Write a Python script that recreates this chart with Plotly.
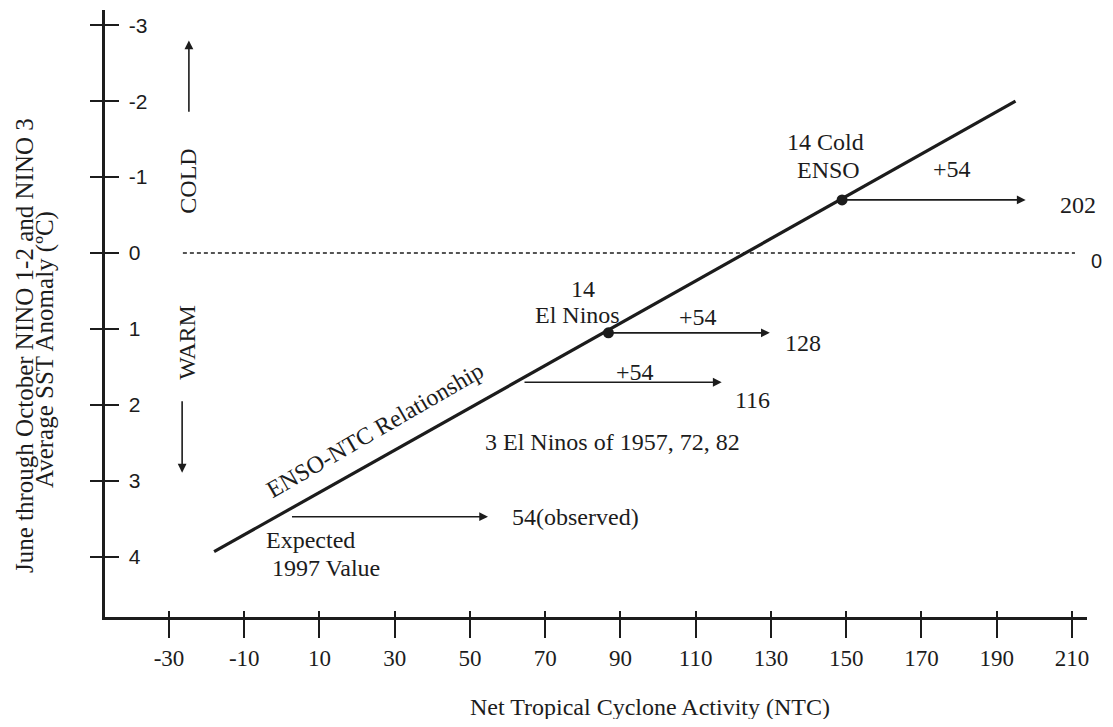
import plotly.graph_objects as go

# ---- data ----
x_ticks = [-30, -10, 10, 30, 50, 70, 90, 110, 130, 150, 170, 190, 210]
y_ticks = [-3, -2, -1, 0, 1, 2, 3, 4]

line_ntc = [-18, 195]          # ENSO-NTC relationship line (NTC)
line_sst = [3.93, -2.0]        # ... and SST anomaly (degC)

point_ntc = [86.8, 148.9]      # 14 El Ninos, 14 Cold ENSO
point_sst = [1.05, -0.70]

arrow_start_ntc = [2.3, 64.1, 86.8, 148.9]
arrow_end_ntc = [54.8, 116.9, 129.7, 197.7]
arrow_sst = [3.47, 1.70, 1.05, -0.70]
arrow_end_labels = ["54(observed)", "116", "128", "202"]

zero_line_ntc = [-26.3, 210.8]
zero_line_sst = [0, 0]

ink = "#1c1c1c"
serif = "Liberation Serif, Times New Roman, serif"
sans = "Liberation Sans, Arial, sans-serif"

# plot area in page pixels (for paper-referenced titles)
PL, PR, PT, PB = 105, 1087, 10, 617

fig = go.Figure()

# dashed zero line
fig.add_trace(go.Scatter(x=zero_line_ntc, y=zero_line_sst, mode="lines",
                         line=dict(color=ink, width=1.5, dash="4px,3px"),
                         showlegend=False, hoverinfo="skip"))
# relationship line
fig.add_trace(go.Scatter(x=line_ntc, y=line_sst, mode="lines",
                         line=dict(color=ink, width=3.2),
                         showlegend=False, hoverinfo="skip"))
# dots
fig.add_trace(go.Scatter(x=point_ntc, y=point_sst, mode="markers",
                         marker=dict(color=ink, size=11),
                         showlegend=False, hoverinfo="skip"))
# dummy trace for the overlay axes (inner half of the crossing ticks)
fig.add_trace(go.Scatter(x=[None], y=[None], xaxis="x2", yaxis="y2",
                         mode="markers", showlegend=False, hoverinfo="skip"))

# arrows
for xs, xe, yy in zip(arrow_start_ntc, arrow_end_ntc, arrow_sst):
    fig.add_annotation(x=xe, y=yy, ax=xs, ay=yy, xref="x", yref="y",
                       axref="x", ayref="y", text="", showarrow=True,
                       arrowhead=2, arrowsize=1.1, arrowwidth=1.6,
                       arrowcolor=ink, standoff=0, startstandoff=0)

# COLD / WARM arrows
fig.add_annotation(x=-24.7, y=-2.8, ax=-24.7, ay=-1.84, xref="x", yref="y",
                   axref="x", ayref="y", text="", showarrow=True,
                   arrowhead=2, arrowsize=1.1, arrowwidth=1.6, arrowcolor=ink)
fig.add_annotation(x=-26.5, y=2.89, ax=-26.5, ay=1.93, xref="x", yref="y",
                   axref="x", ayref="y", text="", showarrow=True,
                   arrowhead=2, arrowsize=1.1, arrowwidth=1.6, arrowcolor=ink)

def txt(x, y, s, size=24, angle=0, xanchor="center", font=serif):
    fig.add_annotation(x=x, y=y, xref="x", yref="y", text=s, showarrow=False,
                       textangle=angle, xanchor=xanchor, yanchor="middle",
                       font=dict(family=font, size=size, color=ink))

txt(-25.0, -0.95, "COLD", angle=-90)
txt(-25.2, 1.18, "WARM", angle=-90)
txt(144.4, -1.46, "14 Cold")
txt(145.2, -1.09, "ENSO")
txt(178.1, -1.105, "+54")
txt(211.6, -0.63, arrow_end_labels[3])
txt(80.0, 0.47, "14")
txt(78.7, 0.82, "El Ninos")
txt(110.6, 0.84, "+54")
txt(138.5, 1.18, arrow_end_labels[2])
txt(93.9, 1.57, "+54")
txt(125.0, 1.93, arrow_end_labels[1])
txt(88.0, 2.49, "3 El Ninos of 1957, 72, 82")
txt(60.6, 3.47, arrow_end_labels[0], xanchor="left")
txt(7.5, 3.78, "Expected")
txt(11.7, 4.14, "1997 Value")
txt(24.8, 2.33, "ENSO-NTC Relationship", angle=-30)

# right-hand "0"
fig.add_annotation(x=(1096 - PL) / (PR - PL), y=0.10, xref="paper", yref="y", text="0",
                   showarrow=False, xanchor="center", yanchor="middle", borderpad=0,
                   font=dict(family=sans, size=20, color=ink))

# y-axis title (two lines)
fig.add_annotation(x=(24 - PL) / (PR - PL), y=(PB - 346) / (PB - PT),
                   xref="paper", yref="paper", xanchor="center", yanchor="middle",
                   text="June through October NINO 1-2 and NINO 3",
                   showarrow=False, textangle=-90, borderpad=0,
                   font=dict(family=serif, size=25, color=ink))
fig.add_annotation(x=(45 - PL) / (PR - PL), y=(PB - 350) / (PB - PT),
                   xref="paper", yref="paper", xanchor="center", yanchor="middle",
                   text="Average SST Anomaly (\u00baC)",
                   showarrow=False, textangle=-90, borderpad=0,
                   font=dict(family=serif, size=25, color=ink))

# x-axis title
fig.add_annotation(x=(650 - PL) / (PR - PL), y=(PB - 707) / (PB - PT),
                   xref="paper", yref="paper", xanchor="center", yanchor="middle",
                   text="Net Tropical Cyclone Activity (NTC)", showarrow=False,
                   font=dict(family=serif, size=24, color=ink))

fig.update_layout(
    width=1097, height=711,
    margin=dict(l=97, r=18, t=2, b=102),
    paper_bgcolor="white", plot_bgcolor="white",
    xaxis=dict(range=[-47, 214], tickvals=x_ticks, ticktext=[str(v) for v in x_ticks],
               ticks="outside", ticklen=18, tickwidth=2, tickcolor=ink,
               showline=True, linewidth=3, linecolor=ink, showgrid=False,
               zeroline=False, tickfont=dict(family=serif, size=23, color=ink)),
    yaxis=dict(range=[4.79, -3.2], tickvals=y_ticks, ticks="outside", ticklen=12,
               tickwidth=2, tickcolor=ink, showline=True, linewidth=3, linecolor=ink,
               showgrid=False, zeroline=False, showticklabels=False),
    xaxis2=dict(range=[-47, 214], overlaying="x", anchor="y2", tickvals=x_ticks,
                ticks="inside", ticklen=6, tickwidth=2, tickcolor=ink,
                showticklabels=False, showline=False, showgrid=False, zeroline=False),
    yaxis2=dict(range=[4.79, -3.2], overlaying="y", anchor="x2", side="left",
                tickvals=y_ticks, ticktext=[str(v) for v in y_ticks],
                ticks="inside", ticklen=14, tickwidth=2, tickcolor=ink,
                ticklabelposition="inside", ticklabelstandoff=11,
                tickfont=dict(family=sans, size=21, color=ink),
                showline=False, showgrid=False, zeroline=False),
)

fig.write_html("out.html")
